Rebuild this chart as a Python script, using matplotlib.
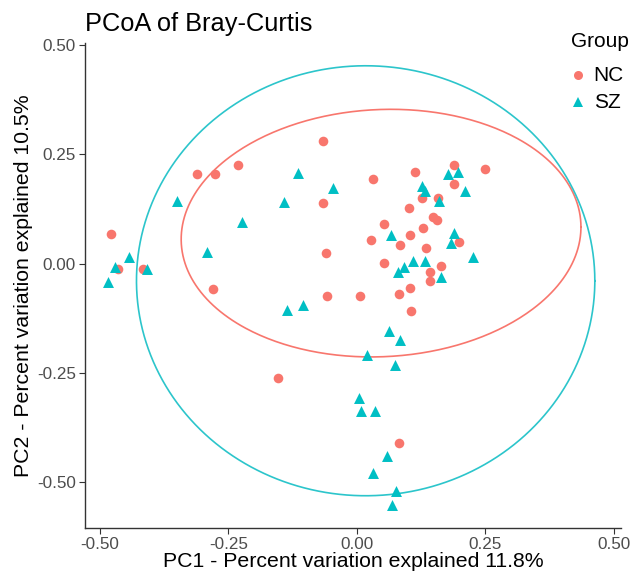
import numpy as np
from matplotlib import pyplot as plt

plt.rcParams['font.family'] = ['Liberation Sans', 'DejaVu Sans']

# NC 그룹 좌표 (PC1, PC2)
nc_x = [-0.312, -0.277, -0.232, -0.479, -0.465, -0.416, -0.281, -0.154, -0.066, 0.031,
        0.113, 0.188, 0.250, 0.189, 0.127, 0.158, -0.066, 0.102, 0.148, 0.156,
        0.053, 0.129, 0.104, 0.199, 0.027, 0.084, 0.135, -0.061, 0.053, 0.164,
        0.143, 0.143, -0.059, 0.006, 0.082, 0.104, 0.105, 0.082]
nc_y = [0.205, 0.205, 0.225, 0.068, -0.011, -0.011, -0.057, -0.261, 0.280, 0.193,
        0.209, 0.225, 0.216, 0.182, 0.150, 0.150, 0.139, 0.127, 0.107, 0.100,
        0.091, 0.082, 0.066, 0.050, 0.055, 0.043, 0.036, 0.025, 0.002, -0.005,
        -0.020, -0.039, -0.073, -0.073, -0.070, -0.055, -0.109, -0.411]

# SZ 그룹 좌표
sz_x = [-0.350, -0.115, -0.141, -0.223, -0.443, -0.471, -0.408, -0.484, -0.291, -0.137,
        -0.105, -0.047, 0.178, 0.197, 0.127, 0.133, 0.160, 0.211, 0.066, 0.188,
        0.184, 0.225, 0.109, 0.133, 0.092, 0.080, 0.164, 0.063, 0.084, 0.020,
        0.074, 0.004, 0.008, 0.035, 0.059, 0.031, 0.076, 0.068]
sz_y = [0.143, 0.207, 0.141, 0.095, 0.016, -0.007, -0.011, -0.041, 0.027, -0.105,
        -0.095, 0.173, 0.205, 0.209, 0.177, 0.166, 0.143, 0.166, 0.066, 0.070,
        0.048, 0.016, 0.007, 0.007, -0.007, -0.020, -0.030, -0.155, -0.175, -0.209,
        -0.232, -0.307, -0.336, -0.336, -0.439, -0.480, -0.520, -0.552]

# 타원 (중심x, 중심y, 가로 반지름, 세로 반지름, 기울기 항)
nc_ell = [0.047, 0.070, 0.389, 0.283, 0.014]
sz_ell = [0.017, -0.039, 0.446, 0.492, 0.0]

ticks = [-0.50, -0.25, 0.00, 0.25, 0.50]
tick_labels = ['-0.50', '-0.25', '0.00', '0.25', '0.50']

nc_col = '#F8766D'
sz_col = '#00BFC4'

fig = plt.figure(figsize=(6.35, 5.74), dpi=100)
ax = fig.add_axes([0.134, 0.080, 0.844, 0.845])

t = np.linspace(0, 2*np.pi, 400)
for e, c in [(nc_ell, nc_col), (sz_ell, '#2CC5CB')]:
    ex = e[0] + e[2]*np.cos(t)
    ey = e[1] + e[3]*np.sin(t) + e[4]*np.cos(t)
    ax.plot(ex, ey, color=c, lw=1.2, zorder=2)

ax.scatter(nc_x, nc_y, s=48, marker='o', color=nc_col, linewidths=0, zorder=3)
ax.scatter(sz_x, sz_y, s=62, marker='^', color=sz_col, linewidths=0, zorder=3)

ax.set_xlim(-0.529, 0.514)
ax.set_ylim(-0.605, 0.505)
ax.set_xticks(ticks)
ax.set_xticklabels(tick_labels)
ax.set_yticks(ticks)
ax.set_yticklabels(tick_labels)
ax.tick_params(colors='#333333', labelcolor='#4D4D4D', labelsize=12.3, length=4, width=0.8, pad=2.5)
for s in ['top', 'right']:
    ax.spines[s].set_visible(False)
for s in ['left', 'bottom']:
    ax.spines[s].set_linewidth(1.0)
    ax.spines[s].set_color('#333333')

ax.set_xlabel('PC1 - Percent variation explained 11.8%', fontsize=15.3, labelpad=0)
ax.set_ylabel('PC2 - Percent variation explained 10.5%', fontsize=15.3, labelpad=3)
fig.text(0.134, 0.958, 'PCoA of Bray-Curtis', fontsize=18.3, ha='left', va='center')

# 범례
fig.text(0.899, 0.927, 'Group', fontsize=15, ha='left', va='center')
fig.text(0.935, 0.869, 'NC', fontsize=15, ha='left', va='center')
fig.text(0.935, 0.822, 'SZ', fontsize=15, ha='left', va='center')
fig.lines.append(plt.Line2D([0.911], [0.869], marker='o', markersize=6.5, color=nc_col,
                            transform=fig.transFigure, linestyle='none', markeredgewidth=0))
fig.lines.append(plt.Line2D([0.911], [0.822], marker='^', markersize=7.5, color=sz_col,
                            transform=fig.transFigure, linestyle='none', markeredgewidth=0))

plt.savefig('out.png')
